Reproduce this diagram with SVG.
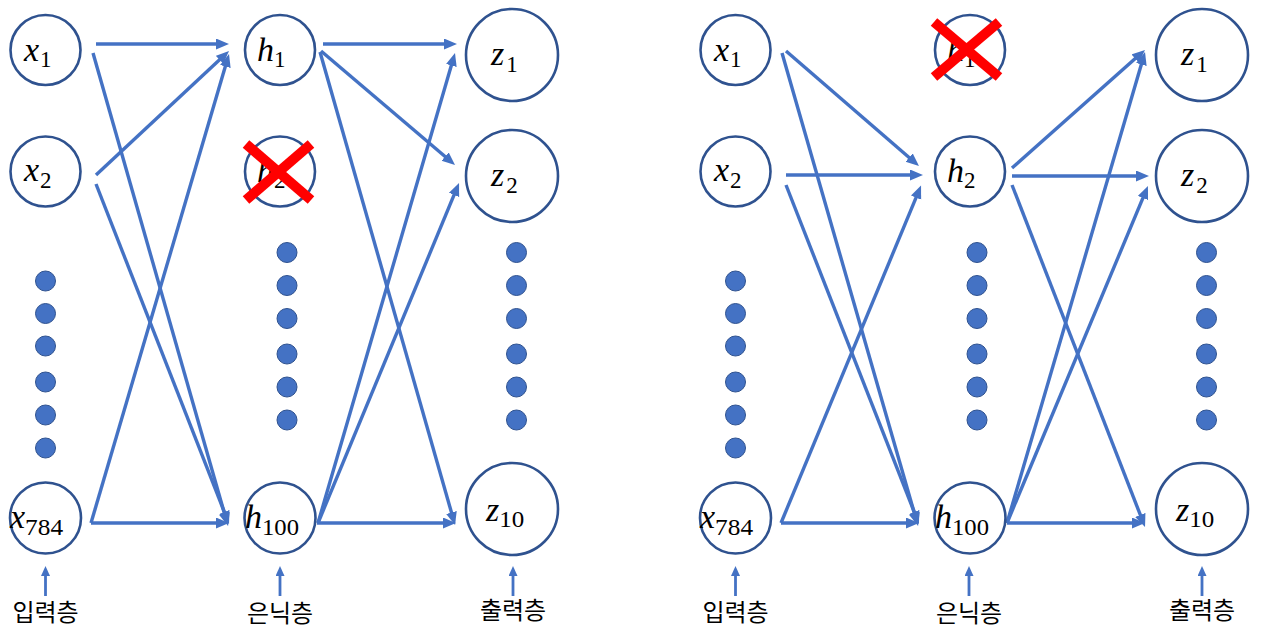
<svg xmlns="http://www.w3.org/2000/svg" width="1261" height="643" viewBox="0 0 1261 643">
<style>
.node{fill:#fff;stroke:#2F528F;stroke-width:2.6}
.dot{fill:#4472C4;stroke:#2F528F;stroke-width:1}
.e{stroke:#4472C4;stroke-width:3.4;fill:none;marker-end:url(#ah)}
.la{stroke:#4472C4;stroke-width:2.8;fill:none;marker-end:url(#ahs)}
.m{font-family:"Liberation Serif","DejaVu Serif",serif;fill:#000}
.i{font-style:italic;font-size:34px}
.s{font-size:23px}
.lbl{font-family:"Noto Sans CJK KR","Noto Sans",sans-serif;font-size:24px;fill:#000;text-anchor:middle}
.x{stroke:#FF0000;stroke-width:10;stroke-linecap:butt}
</style>
<defs>
<marker id="ah" markerUnits="userSpaceOnUse" markerWidth="14" markerHeight="12" refX="3" refY="5.5" orient="auto">
<path d="M0,0 L13,5.5 L0,11 z" fill="#4472C4"/>
</marker>
<marker id="ahs" markerUnits="userSpaceOnUse" markerWidth="11" markerHeight="10" refX="2" refY="4.5" orient="auto">
<path d="M0,0 L10,4.5 L0,9 z" fill="#4472C4"/>
</marker>
</defs>
<rect width="1261" height="643" fill="#fff"/>

<g id="connectors">
<line class="e" x1="96" y1="44" x2="219" y2="44"/>
<line class="e" x1="93" y1="53" x2="225.3" y2="516.4"/>
<line class="e" x1="96" y1="175" x2="221.7" y2="57.8"/>
<line class="e" x1="96" y1="184" x2="225.4" y2="514.7"/>
<line class="e" x1="91" y1="523" x2="226.2" y2="63.6"/>
<line class="e" x1="91" y1="523" x2="219" y2="523"/>
<line class="e" x1="323" y1="44" x2="447" y2="44"/>
<line class="e" x1="321" y1="51" x2="447.4" y2="158.5"/>
<line class="e" x1="320" y1="52" x2="452.3" y2="515.4"/>
<line class="e" x1="318" y1="523" x2="452.2" y2="62.6"/>
<line class="e" x1="318" y1="523" x2="455.2" y2="192.2"/>
<line class="e" x1="317" y1="523" x2="446" y2="523"/>
<line class="e" x1="786" y1="51" x2="911.4" y2="159.5"/>
<line class="e" x1="782" y1="53" x2="915.3" y2="516.4"/>
<line class="e" x1="786" y1="175" x2="913" y2="175"/>
<line class="e" x1="786" y1="185" x2="915.3" y2="514.7"/>
<line class="e" x1="781" y1="523" x2="917.2" y2="194.8"/>
<line class="e" x1="781" y1="523" x2="909" y2="523"/>
<line class="e" x1="1012" y1="168" x2="1137.5" y2="56.6"/>
<line class="e" x1="1012" y1="176" x2="1139" y2="176"/>
<line class="e" x1="1012" y1="185" x2="1141.4" y2="517.7"/>
<line class="e" x1="1007" y1="523" x2="1142.2" y2="61.6"/>
<line class="e" x1="1007" y1="523" x2="1144.1" y2="195.2"/>
<line class="e" x1="1007" y1="523" x2="1135" y2="523"/>
<line class="la" x1="45.5" y1="596" x2="45.5" y2="574"/>
<line class="la" x1="280" y1="596" x2="280" y2="574"/>
<line class="la" x1="513" y1="596" x2="513" y2="574"/>
<line class="la" x1="735.5" y1="596" x2="735.5" y2="574"/>
<line class="la" x1="969" y1="596" x2="969" y2="574"/>
<line class="la" x1="1202" y1="596" x2="1202" y2="574"/>
</g>

<g id="L_x1"><circle class="node" cx="45.5" cy="50" r="35"/><text class="m" x="24" y="61"><tspan class="i">x</tspan><tspan class="s" dx="1" dy="6">1</tspan></text></g>
<g id="L_x2"><circle class="node" cx="45.5" cy="171.5" r="35"/><text class="m" x="24" y="181"><tspan class="i">x</tspan><tspan class="s" dx="1" dy="7">2</tspan></text></g>
<g id="L_x784"><circle class="node" cx="45.5" cy="518" r="35.5"/><text class="m" x="10" y="528"><tspan class="i">x</tspan><tspan class="s" dx="0" dy="7" textLength="38" lengthAdjust="spacingAndGlyphs">784</tspan></text></g>
<g id="L_h1"><circle class="node" cx="280" cy="50" r="35"/><text class="m" x="257" y="61"><tspan class="i">h</tspan><tspan class="s" dx="0" dy="6">1</tspan></text></g>
<g id="L_h2"><circle class="node" cx="280" cy="171.5" r="35"/><text class="m" x="257" y="182"><tspan class="i">h</tspan><tspan class="s" dx="0" dy="6">2</tspan></text></g>
<g id="L_h100"><circle class="node" cx="280" cy="518" r="35.5"/><text class="m" x="245" y="528"><tspan class="i">h</tspan><tspan class="s" dx="0" dy="7" textLength="37" lengthAdjust="spacingAndGlyphs">100</tspan></text></g>
<g id="L_z1"><circle class="node" cx="512" cy="55" r="46"/><text class="m" x="491" y="65"><tspan class="i">z</tspan><tspan class="s" dx="2" dy="7">1</tspan></text></g>
<g id="L_z2"><circle class="node" cx="512" cy="176" r="46"/><text class="m" x="491" y="186"><tspan class="i">z</tspan><tspan class="s" dx="2" dy="7">2</tspan></text></g>
<g id="L_z10"><circle class="node" cx="512" cy="509" r="46"/><text class="m" x="486" y="521"><tspan class="i">z</tspan><tspan class="s" dx="0" dy="6" textLength="25" lengthAdjust="spacingAndGlyphs">10</tspan></text></g>
<g id="L_dots">
<circle class="dot" cx="45.5" cy="281" r="10"/><circle class="dot" cx="45.5" cy="313.5" r="10"/><circle class="dot" cx="45.5" cy="346" r="10"/><circle class="dot" cx="45.5" cy="382" r="10"/><circle class="dot" cx="45.5" cy="415" r="10"/><circle class="dot" cx="45.5" cy="448" r="10"/>
<circle class="dot" cx="287" cy="252.5" r="10"/><circle class="dot" cx="287" cy="285.5" r="10"/><circle class="dot" cx="287" cy="318.5" r="10"/><circle class="dot" cx="287" cy="354" r="10"/><circle class="dot" cx="287" cy="387" r="10"/><circle class="dot" cx="287" cy="420" r="10"/>
<circle class="dot" cx="516.5" cy="252.5" r="10"/><circle class="dot" cx="516.5" cy="285.5" r="10"/><circle class="dot" cx="516.5" cy="318.5" r="10"/><circle class="dot" cx="516.5" cy="354" r="10"/><circle class="dot" cx="516.5" cy="387" r="10"/><circle class="dot" cx="516.5" cy="420" r="10"/>
</g>
<g id="L_drop"><line class="x" x1="246" y1="144" x2="311" y2="200"/><line class="x" x1="246" y1="200" x2="311" y2="144"/></g>
<g id="L_labels">
<text class="lbl" x="45.5" y="621">입력층</text>
<text class="lbl" x="280" y="622">은닉층</text>
<text class="lbl" x="513" y="619">출력층</text>
</g>

<g id="R_x1"><circle class="node" cx="735.5" cy="50" r="35"/><text class="m" x="714" y="61"><tspan class="i">x</tspan><tspan class="s" dx="1" dy="6">1</tspan></text></g>
<g id="R_x2"><circle class="node" cx="735.5" cy="171.5" r="35"/><text class="m" x="714" y="181"><tspan class="i">x</tspan><tspan class="s" dx="1" dy="7">2</tspan></text></g>
<g id="R_x784"><circle class="node" cx="735.5" cy="518" r="35.5"/><text class="m" x="700" y="528"><tspan class="i">x</tspan><tspan class="s" dx="0" dy="7" textLength="38" lengthAdjust="spacingAndGlyphs">784</tspan></text></g>
<g id="R_h1"><circle class="node" cx="970" cy="50" r="35"/><text class="m" x="947" y="61"><tspan class="i">h</tspan><tspan class="s" dx="0" dy="6">1</tspan></text></g>
<g id="R_h2"><circle class="node" cx="970" cy="171.5" r="35"/><text class="m" x="947" y="182"><tspan class="i">h</tspan><tspan class="s" dx="0" dy="6">2</tspan></text></g>
<g id="R_h100"><circle class="node" cx="970" cy="518" r="35.5"/><text class="m" x="935" y="528"><tspan class="i">h</tspan><tspan class="s" dx="0" dy="7" textLength="37" lengthAdjust="spacingAndGlyphs">100</tspan></text></g>
<g id="R_z1"><circle class="node" cx="1202" cy="55" r="46"/><text class="m" x="1181" y="65"><tspan class="i">z</tspan><tspan class="s" dx="2" dy="7">1</tspan></text></g>
<g id="R_z2"><circle class="node" cx="1202" cy="176" r="46"/><text class="m" x="1181" y="186"><tspan class="i">z</tspan><tspan class="s" dx="2" dy="7">2</tspan></text></g>
<g id="R_z10"><circle class="node" cx="1202" cy="509" r="46"/><text class="m" x="1176" y="521"><tspan class="i">z</tspan><tspan class="s" dx="0" dy="6" textLength="25" lengthAdjust="spacingAndGlyphs">10</tspan></text></g>
<g id="R_dots">
<circle class="dot" cx="735.5" cy="281" r="10"/><circle class="dot" cx="735.5" cy="313.5" r="10"/><circle class="dot" cx="735.5" cy="346" r="10"/><circle class="dot" cx="735.5" cy="382" r="10"/><circle class="dot" cx="735.5" cy="415" r="10"/><circle class="dot" cx="735.5" cy="448" r="10"/>
<circle class="dot" cx="977" cy="252.5" r="10"/><circle class="dot" cx="977" cy="285.5" r="10"/><circle class="dot" cx="977" cy="318.5" r="10"/><circle class="dot" cx="977" cy="354" r="10"/><circle class="dot" cx="977" cy="387" r="10"/><circle class="dot" cx="977" cy="420" r="10"/>
<circle class="dot" cx="1206.5" cy="252.5" r="10"/><circle class="dot" cx="1206.5" cy="285.5" r="10"/><circle class="dot" cx="1206.5" cy="318.5" r="10"/><circle class="dot" cx="1206.5" cy="354" r="10"/><circle class="dot" cx="1206.5" cy="387" r="10"/><circle class="dot" cx="1206.5" cy="420" r="10"/>
</g>
<g id="R_drop"><line class="x" x1="934" y1="22" x2="999" y2="77"/><line class="x" x1="934" y1="77" x2="999" y2="22"/></g>
<g id="R_labels">
<text class="lbl" x="735.5" y="621">입력층</text>
<text class="lbl" x="969" y="622">은닉층</text>
<text class="lbl" x="1202" y="619">출력층</text>
</g>
</svg>
